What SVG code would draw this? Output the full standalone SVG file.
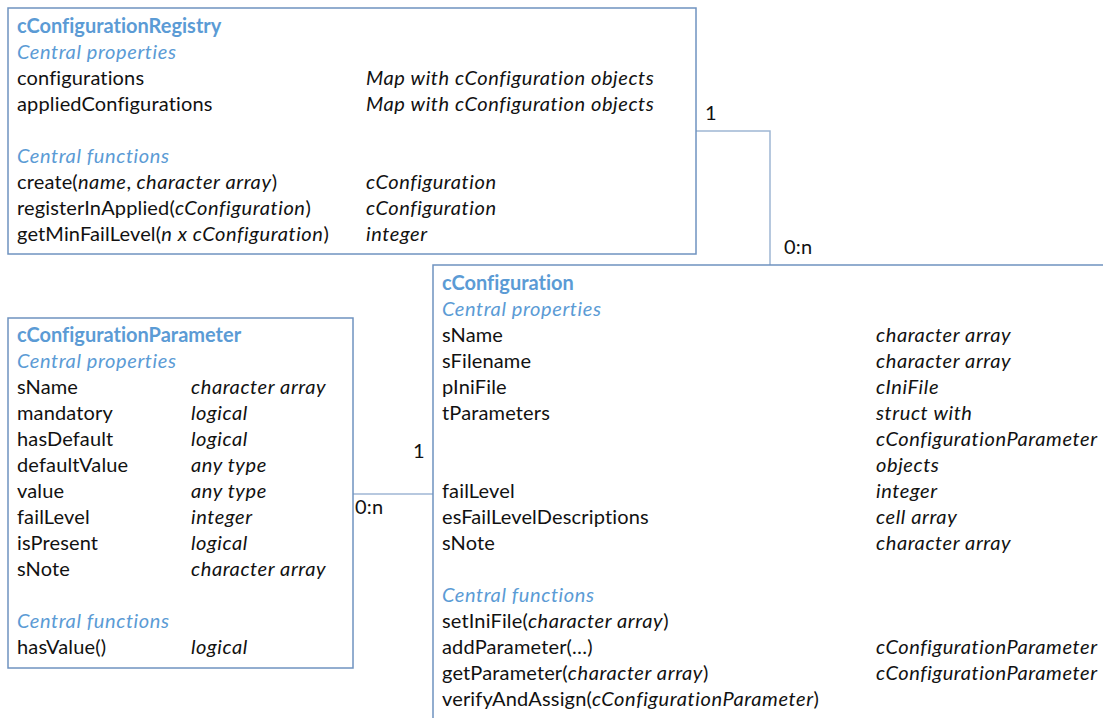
<svg xmlns="http://www.w3.org/2000/svg" width="1103" height="718" viewBox="0 0 1103 718">
<style>
text{font-family:Lato,"Open Sans","Liberation Sans",sans-serif;font-size:20px;fill:#111;letter-spacing:0.15px;font-variant-ligatures:none}
.t{font-weight:bold;fill:#5b9bd5;letter-spacing:0}
.h{font-style:italic;fill:#5b9bd5;letter-spacing:0.6px}
.i{font-style:italic;letter-spacing:0.6px}
.box{fill:#fff;stroke:#6f93c0;stroke-width:1.5}
.con{fill:none;stroke:#9fb6d4;stroke-width:1.5}
</style>
<rect width="1103" height="718" fill="#fff"/>
<g id="connectors">
<polyline class="con" points="696,131 770,131 770,265"/>
<line class="con" x1="353" y1="494" x2="433" y2="494"/>
<text x="705" y="120">1</text>
<text x="784" y="254">0:n</text>
<text x="413" y="458">1</text>
<text x="355" y="514">0:n</text>
</g>
<g id="cConfigurationRegistry">
<rect class="box" x="8" y="8" width="688" height="246"/>
<text class="t" x="17" y="33">cConfigurationRegistry</text>
<text class="h" x="17" y="59">Central properties</text>
<text x="17" y="85">configurations</text>
<text x="17" y="111">appliedConfigurations</text>
<text class="i" x="366" y="85">Map with cConfiguration objects</text>
<text class="i" x="366" y="111">Map with cConfiguration objects</text>
<text class="h" x="17" y="163">Central functions</text>
<text x="17" y="189">create(<tspan class="i">name</tspan>, <tspan class="i">character array</tspan>)</text>
<text x="17" y="215">registerInApplied(<tspan class="i">cConfiguration</tspan>)</text>
<text x="17" y="241">getMinFailLevel(<tspan class="i">n x cConfiguration</tspan>)</text>
<text class="i" x="366" y="189">cConfiguration</text>
<text class="i" x="366" y="215">cConfiguration</text>
<text class="i" x="366" y="241">integer</text>
</g>
<g id="cConfiguration">
<path class="box" d="M1104,265 H433 V720"/>
<text class="t" x="442" y="290">cConfiguration</text>
<text class="h" x="442" y="316">Central properties</text>
<text x="442" y="342">sName</text>
<text x="442" y="368">sFilename</text>
<text x="442" y="394">pIniFile</text>
<text x="442" y="420">tParameters</text>
<text x="442" y="498">failLevel</text>
<text x="442" y="524">esFailLevelDescriptions</text>
<text x="442" y="550">sNote</text>
<text class="i" x="876" y="342">character array</text>
<text class="i" x="876" y="368">character array</text>
<text class="i" x="876" y="394">cIniFile</text>
<text class="i" x="876" y="420">struct with</text>
<text class="i" x="876" y="446">cConfigurationParameter</text>
<text class="i" x="876" y="472">objects</text>
<text class="i" x="876" y="498">integer</text>
<text class="i" x="876" y="524">cell array</text>
<text class="i" x="876" y="550">character array</text>
<text class="h" x="442" y="602">Central functions</text>
<text x="442" y="628">setIniFile(<tspan class="i">character array</tspan>)</text>
<text x="442" y="654">addParameter(…)</text>
<text x="442" y="680">getParameter(<tspan class="i">character array</tspan>)</text>
<text x="442" y="706">verifyAndAssign(<tspan class="i">cConfigurationParameter</tspan>)</text>
<text class="i" x="876" y="654">cConfigurationParameter</text>
<text class="i" x="876" y="680">cConfigurationParameter</text>
</g>
<g id="cConfigurationParameter">
<rect class="box" x="8" y="318" width="345" height="350"/>
<text class="t" x="17" y="342">cConfigurationParameter</text>
<text class="h" x="17" y="368">Central properties</text>
<text x="17" y="394">sName</text>
<text x="17" y="420">mandatory</text>
<text x="17" y="446">hasDefault</text>
<text x="17" y="472">defaultValue</text>
<text x="17" y="498">value</text>
<text x="17" y="524">failLevel</text>
<text x="17" y="550">isPresent</text>
<text x="17" y="576">sNote</text>
<text class="i" x="191" y="394">character array</text>
<text class="i" x="191" y="420">logical</text>
<text class="i" x="191" y="446">logical</text>
<text class="i" x="191" y="472">any type</text>
<text class="i" x="191" y="498">any type</text>
<text class="i" x="191" y="524">integer</text>
<text class="i" x="191" y="550">logical</text>
<text class="i" x="191" y="576">character array</text>
<text class="h" x="17" y="628">Central functions</text>
<text x="17" y="654">hasValue()</text>
<text class="i" x="191" y="654">logical</text>
</g>
</svg>
